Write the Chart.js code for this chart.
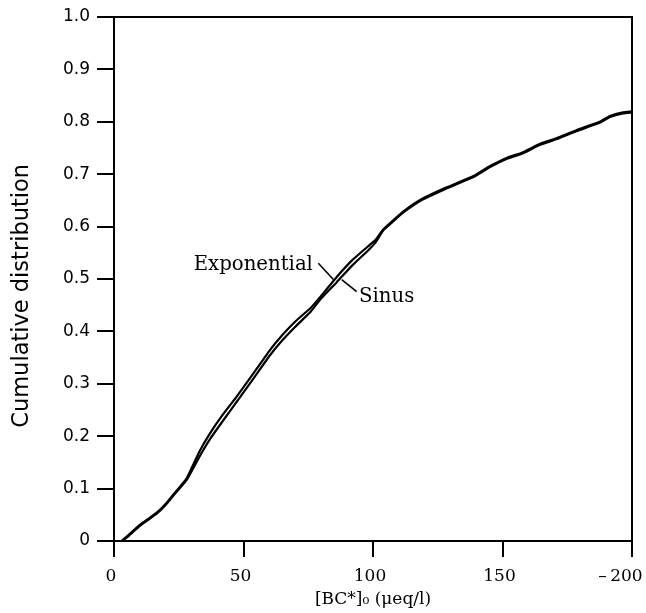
<!DOCTYPE html>
<html>
<head>
<meta charset="utf-8">
<script src="https://cdn.jsdelivr.net/npm/chart.js@4.4.1/dist/chart.umd.min.js"></script>
<style>
  html, body { margin: 0; padding: 0; background: #fff; }
  #wrap { width: 646px; height: 613px; }
</style>
</head>
<body>
<div id="wrap"><canvas id="cdfChart" width="646" height="613"></canvas></div>
<script>
// [BC*]0 values (µeq/l) at which the two curves were read
var concValues = [3, 5, 10, 16.5, 20, 24, 28, 33, 37, 42, 47, 53, 60, 65, 70, 76, 80, 86, 92, 98, 101, 104,
  108, 112, 119, 128, 139, 145, 152, 158, 164.5, 171, 178.5, 187.5, 191.5, 196.5, 200];

// cumulative distribution, exponential model
var exponentialValues = [0, 0.009, 0.031, 0.054, 0.071, 0.095, 0.119, 0.171, 0.205, 0.241, 0.273, 0.314,
  0.363, 0.393, 0.419, 0.445, 0.468, 0.504, 0.536, 0.562, 0.575, 0.595,
  0.613, 0.630, 0.653, 0.674, 0.697, 0.715, 0.732, 0.742, 0.758, 0.769, 0.784, 0.800, 0.811, 0.818, 0.820];

// cumulative distribution, sinus model
var sinusValues = [0, 0.007, 0.029, 0.052, 0.069, 0.093, 0.116, 0.161, 0.194, 0.229, 0.263, 0.304,
  0.353, 0.383, 0.409, 0.438, 0.463, 0.494, 0.526, 0.554, 0.570, 0.593,
  0.611, 0.628, 0.651, 0.672, 0.695, 0.713, 0.730, 0.740, 0.756, 0.767, 0.782, 0.798, 0.809, 0.816, 0.818];

var xTickValues = [0, 50, 100, 150, 200];
var xTickLabels = ['0', '50', '100', '150', '\u2013\u2009200\u2002\u2002'];
var yTickValues = [0, 0.1, 0.2, 0.3, 0.4, 0.5, 0.6, 0.7, 0.8, 0.9, 1.0];
var yTickLabels = ['0', '0.1', '0.2', '0.3', '0.4', '0.5', '0.6', '0.7', '0.8', '0.9', '1.0'];

// curve labels with their leader lines, in data units
var curveLabels = [
  { text: 'Exponential', x: 76.8, y: 0.518, align: 'right', line: [78.9, 0.530, 84.7, 0.499] },
  { text: 'Sinus', x: 94.6, y: 0.4565, align: 'left', line: [87.9, 0.499, 93.7, 0.476] }
];

function toPoints(ys) {
  return concValues.map(function (x, i) { return { x: x, y: ys[i] }; });
}

var SERIF = "'DejaVu Serif', serif";
var SANS = "'DejaVu Sans', sans-serif";

/* frame: top and right borders of the plot box */
var framePlugin = {
  id: 'frame',
  afterDraw: function (chart) {
    var a = chart.chartArea, ctx = chart.ctx;
    ctx.save();
    ctx.strokeStyle = '#000';
    ctx.lineWidth = 2;
    ctx.beginPath();
    ctx.moveTo(a.left, a.top);
    ctx.lineTo(a.right, a.top);
    ctx.lineTo(a.right, a.bottom);
    ctx.stroke();
    ctx.restore();
  }
};

/* curve names with leader lines */
var labelPlugin = {
  id: 'curveLabels',
  afterDatasetsDraw: function (chart) {
    var ctx = chart.ctx, xs = chart.scales.x, ys = chart.scales.y;
    ctx.save();
    ctx.strokeStyle = '#000';
    ctx.fillStyle = '#000';
    ctx.lineWidth = 1.6;
    ctx.font = '19.7px ' + SERIF;
    ctx.textBaseline = 'alphabetic';
    curveLabels.forEach(function (l) {
      ctx.beginPath();
      ctx.moveTo(xs.getPixelForValue(l.line[0]), ys.getPixelForValue(l.line[1]));
      ctx.lineTo(xs.getPixelForValue(l.line[2]), ys.getPixelForValue(l.line[3]));
      ctx.stroke();
      ctx.textAlign = l.align;
      ctx.fillText(l.text, xs.getPixelForValue(l.x), ys.getPixelForValue(l.y));
    });
    ctx.restore();
  }
};

new Chart(document.getElementById('cdfChart'), {
  type: 'line',
  data: {
    datasets: [{
      label: 'Exponential',
      data: toPoints(exponentialValues),
      borderColor: '#000', borderWidth: 2.2, pointRadius: 0, fill: false, tension: 0.15
    }, {
      label: 'Sinus',
      data: toPoints(sinusValues),
      borderColor: '#000', borderWidth: 2.2, pointRadius: 0, fill: false, tension: 0.15
    }]
  },
  options: {
    responsive: false,
    animation: false,
    layout: { padding: { left: 0, right: 14, top: 17, bottom: 2 } },
    plugins: { legend: { display: false }, tooltip: { enabled: false } },
    scales: {
      x: {
        type: 'linear', min: 0, max: 200,
        afterBuildTicks: function (s) { s.ticks = xTickValues.map(function (v) { return { value: v }; }); },
        afterFit: function (s) { s.height = 70; s.paddingLeft = 0; s.paddingRight = 0; },
        ticks: {
          color: '#000', font: { family: SERIF, size: 17 }, padding: 9, labelOffset: -3, maxRotation: 0,
          callback: function (v) { return xTickLabels[xTickValues.indexOf(v)]; }
        },
        grid: { drawOnChartArea: false, drawTicks: true, tickLength: 16, color: '#000', lineWidth: 2 },
        border: { display: true, color: '#000', width: 2 },
        title: {
          display: true, text: '[BC*]\u2080 (\u03bceq/l)', color: '#000',
          font: { family: SERIF, size: 17 }, padding: { top: 0, bottom: 1 }
        }
      },
      y: {
        type: 'linear', min: 0, max: 1,
        afterBuildTicks: function (s) { s.ticks = yTickValues.map(function (v) { return { value: v }; }); },
        afterFit: function (s) { s.width = 114; s.paddingTop = 0; s.paddingBottom = 0; },
        ticks: {
          color: '#000', font: { family: SANS, size: 17 }, padding: 7,
          callback: function (v) { return yTickLabels[yTickValues.indexOf(v)]; }
        },
        grid: { drawOnChartArea: false, drawTicks: true, tickLength: 17, color: '#000', lineWidth: 2 },
        border: { display: true, color: '#000', width: 2 },
        title: {
          display: true, text: 'Cumulative distribution\u2002\u2002\u2002', color: '#000',
          font: { family: SANS, size: 22.5 }, padding: { top: 9, bottom: 0 }
        }
      }
    }
  },
  plugins: [framePlugin, labelPlugin]
});
</script>
</body>
</html>
